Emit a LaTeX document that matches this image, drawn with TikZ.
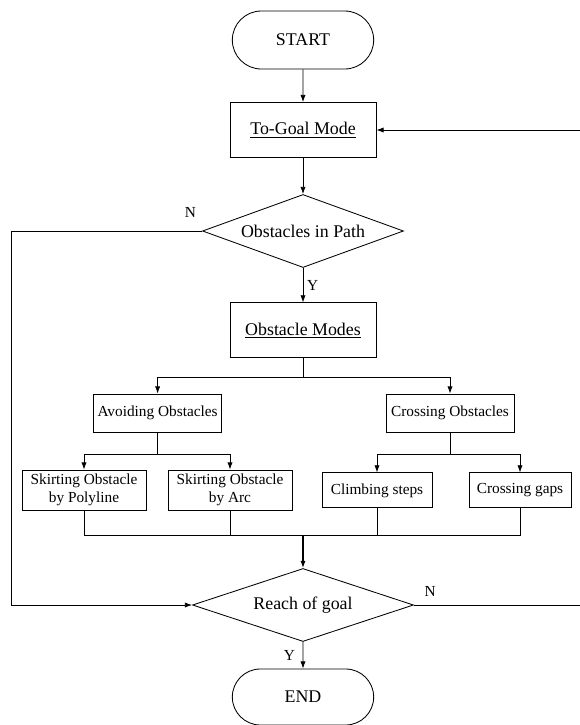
\documentclass[tikz,border=0pt]{standalone}
\usepackage{fontspec}
\setmainfont{Liberation Serif}
\usepackage{tikz}
\usetikzlibrary{positioning,arrows.meta,shapes.geometric,shapes.misc}
\tikzset{
  fl/.style={align=center, font=\fontsize{12.7}{15}\selectfont, inner sep=2pt, line width=0.6pt},
  fl small/.style={fl, font=\fontsize{10.9}{12.8}\selectfont},
  fl term/.style={fl, rounded rectangle, draw, minimum width=3.675cm, minimum height=1.45cm},
  fl proc/.style={fl, draw, rectangle},
  fl dec/.style={fl, diamond, draw, inner sep=0pt, minimum height=1.825cm},
  fl sub/.style={fl small, draw, rectangle},
  fl line/.style={line width=0.6pt},
  fl arr/.style={-{Latex[length=1.8mm,width=1.3mm]}, line width=0.6pt},
  fl tag/.style={fl small, inner sep=0pt},
}
\begin{document}
\begin{tikzpicture}[x=1cm, y=1cm,
  md/.style={fl proc, minimum width=3.65cm, minimum height=1.375cm},
  br/.style={fl sub, minimum width=3.2cm, minimum height=0.95cm}]
  \useasboundingbox (0,0) rectangle (14.5,-18.125);
  % main column
  \node[fl term] (start) at (7.575,-1.0) {START};
  \node[md] (goal) at (7.575,-3.25) {\underline{To-Goal Mode}};
  \node[fl dec, aspect=2.75, minimum width=5.025cm] (obs) at (7.575,-5.775) {Obstacles in Path};
  \node[md] (modes) at (7.575,-8.26) {\underline{Obstacle Modes}};
  % two kinds of obstacle mode
  \node[br] (avoid) at (3.94,-10.325) {Avoiding Obstacles};
  \node[br] (cross) at (11.25,-10.325) {Crossing Obstacles};
  % leaves
  \node[fl sub, minimum width=3.1cm, minimum height=1cm] (poly) at (2.1,-12.25) {Skirting Obstacle\\by Polyline};
  \node[fl sub, minimum width=3.1cm, minimum height=1cm] (arc) at (5.75,-12.25) {Skirting Obstacle\\by Arc};
  \node[fl sub, minimum width=2.75cm, minimum height=0.875cm] (climb) at (9.425,-12.26) {Climbing steps};
  \node[fl sub, minimum width=2.55cm, minimum height=0.875cm] (gaps) at (13.0,-12.26) {Crossing gaps};
  % goal check
  \node[fl dec, aspect=3.03, minimum width=5.525cm] (reach) at (7.575,-15.125) {Reach of goal};
  \node[fl term, minimum height=1.4cm] (end) at (7.575,-17.425) {END};
  % arrows down the column
  \draw[fl arr] (start) -- (goal);
  \draw[fl arr] (goal) -- (obs);
  \draw[fl arr] (obs) -- node[fl tag, right=0.09cm] (y1) {Y} (modes);
  \coordinate (sp1) at (7.575,-9.425);
  \draw[fl line] (modes) -- (sp1);
  \foreach \n in {avoid,cross} \draw[fl arr] (sp1) -| (\n);
  \draw[fl line] (avoid.south) -- ++(0,-0.55) coordinate (sp2);
  \foreach \n in {poly,arc} \draw[fl arr] (sp2) -| (\n);
  \draw[fl line] (cross.south) -- ++(0,-0.55) coordinate (sp3);
  \foreach \n in {climb,gaps} \draw[fl arr] (sp3) -| (\n);
  % collect the leaves
  \coordinate (jn) at (7.575,-13.375);
  \foreach \n in {poly,arc,climb,gaps} \draw[fl line] (\n.south) |- (jn);
  \draw[fl arr, line width=1pt] (jn) -- (reach);
  \draw[fl arr] (reach) -- node[fl tag, left=0.19cm] (y2) {Y} (end);
  % N branches
  \coordinate (lt) at (0.275,-5.775);
  \draw[fl arr] (obs.west) -- (lt) |- (reach.west);
  \coordinate (rt) at (14.55,-15.125);
  \draw[fl arr] (reach.east) -- (rt) |- (goal.east);
  \node[fl tag, above left=0.325cm and 0.14cm of obs.west] (n1) {N};
  \node[fl tag, above right=0.2cm and 0.26cm of reach.east] (n2) {N};
\end{tikzpicture}
\end{document}
